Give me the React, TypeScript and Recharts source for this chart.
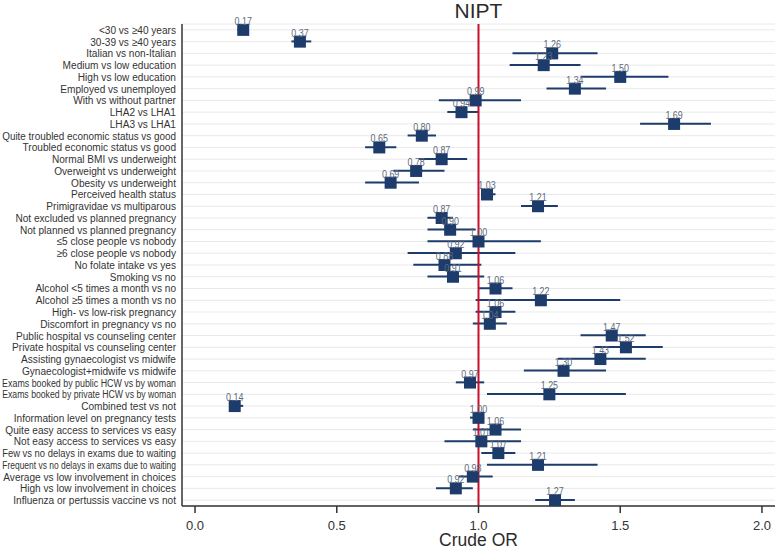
import React from "react";
import {
  ComposedChart,
  Bar,
  Line,
  XAxis,
  YAxis,
  CartesianGrid,
  ReferenceLine,
  Label,
} from "recharts";

const categories = [
  "<30 vs ≥40 years",
  "30-39 vs ≥40 years",
  "Italian vs non-Italian",
  "Medium vs low education",
  "High vs low education",
  "Employed vs unemployed",
  "With vs without partner",
  "LHA2 vs LHA1",
  "LHA3 vs LHA1",
  "Quite troubled economic status vs good",
  "Troubled economic status vs good",
  "Normal BMI vs underweight",
  "Overweight vs underweight",
  "Obesity vs underweight",
  "Perceived health status",
  "Primigravidae vs multiparous",
  "Not excluded vs planned pregnancy",
  "Not planned vs planned pregnancy",
  "≤5 close people vs nobody",
  "≥6 close people vs nobody",
  "No folate intake vs yes",
  "Smoking vs no",
  "Alcohol <5 times a month vs no",
  "Alcohol ≥5 times a month vs no",
  "High- vs low-risk pregnancy",
  "Discomfort in pregnancy vs no",
  "Public hospital vs counseling center",
  "Private hospital vs counseling center",
  "Assisting gynaecologist vs midwife",
  "Gynaecologist+midwife vs midwife",
  "Exams booked by public HCW vs by woman",
  "Exams booked by private HCW vs by woman",
  "Combined test vs not",
  "Information level on pregnancy tests",
  "Quite easy access to services vs easy",
  "Not easy access to services vs easy",
  "Few vs no delays in exams due to waiting",
  "Frequent vs no delays in exams due to waiting",
  "Average vs low involvement in choices",
  "High vs low involvement in choices",
  "Influenza or pertussis vaccine vs not",
];

const oddsRatios = [
  0.17, 0.37, 1.26, 1.23, 1.5, 1.34, 0.99, 0.94, 1.69, 0.8, 0.65, 0.87, 0.78,
  0.69, 1.03, 1.21, 0.87, 0.9, 1.0, 0.92, 0.88, 0.91, 1.06, 1.22, 1.06, 1.04,
  1.47, 1.52, 1.43, 1.3, 0.97, 1.25, 0.14, 1.0, 1.06, 1.01, 1.07, 1.21, 0.98,
  0.92, 1.27,
];

const lowerCI = [
  0.15, 0.34, 1.12, 1.11, 1.36, 1.24, 0.86, 0.89, 1.57, 0.75, 0.6, 0.79, 0.7,
  0.6, 1.01, 1.15, 0.82, 0.82, 0.82, 0.75, 0.77, 0.82, 1.0, 0.99, 0.99, 0.98,
  1.36, 1.41, 1.28, 1.16, 0.92, 1.03, 0.12, 0.97, 0.98, 0.88, 1.01, 1.03, 0.93,
  0.85, 1.2,
];

const upperCI = [
  0.19, 0.41, 1.42, 1.36, 1.67, 1.45, 1.15, 1.0, 1.82, 0.85, 0.71, 0.96, 0.88,
  0.79, 1.06, 1.28, 0.91, 0.99, 1.22, 1.13, 1.01, 1.02, 1.12, 1.5, 1.13, 1.1,
  1.59, 1.65, 1.59, 1.45, 1.02, 1.52, 0.17, 1.02, 1.15, 1.15, 1.13, 1.42, 1.05,
  0.98, 1.34,
];

const xTicks = [0, 0.5, 1, 1.5, 2];

const data = categories.map((label, i) => ({
  label,
  or: oddsRatios[i],
  ci: [lowerCI[i], upperCI[i]],
}));

const NAVY = "#1d3c6b";
const FONT = "Liberation Sans, Arial, sans-serif";
const Y_FONT_SIZE = 11;
const Y_MAX_WIDTH = 174;

let measureCtx: CanvasRenderingContext2D | null = null;
const measure = (s: string): number => {
  if (!measureCtx && typeof document !== "undefined") {
    measureCtx = document.createElement("canvas").getContext("2d");
  }
  if (!measureCtx) return s.length * Y_FONT_SIZE * 0.5;
  measureCtx.font = `${Y_FONT_SIZE}px "Liberation Sans", Arial, sans-serif`;
  return measureCtx.measureText(s).width;
};

const Whisker = (props: any) => {
  const { x, y, width, height } = props;
  if (x == null || width == null) return null;
  const cy = y + height / 2;
  return (
    <line
      x1={x}
      x2={x + width}
      y1={cy}
      y2={cy}
      stroke={NAVY}
      strokeWidth={2}
    />
  );
};

const SquareDot = (props: any) => {
  const { cx, cy, payload, index } = props;
  if (cx == null || cy == null) return null;
  const s = 12;
  return (
    <g key={`dot-${index}`}>
      <rect x={cx - s / 2} y={cy - s / 2} width={s} height={s} fill={NAVY} />
      <text
        x={0}
        y={0}
        transform={`translate(${cx},${cy - 5}) scale(0.85,1)`}
        textAnchor="middle"
        fontSize={10.5}
        fill="#5d6b7e"
        fontFamily={FONT}
      >
        {payload.or.toFixed(2)}
      </text>
    </g>
  );
};

const YTick = (props: any) => {
  const { x, y, payload } = props;
  const w = measure(String(payload.value));
  const sx = Math.min(0.92, Y_MAX_WIDTH / w);
  return (
    <text
      x={0}
      y={0}
      dy="0.36em"
      transform={`translate(${x},${y}) scale(${sx},1)`}
      textAnchor="end"
      fontSize={Y_FONT_SIZE}
      fill="#333"
      fontFamily={FONT}
    >
      {payload.value}
    </text>
  );
};

export default function App() {
  return (
    <div
      style={{
        position: "absolute",
        left: 0,
        top: 0,
        width: 776,
        height: 549,
        background: "#fff",
        fontFamily: FONT,
      }}
    >
      <div
        style={{
          position: "absolute",
          left: 182,
          width: 593,
          top: 0,
          textAlign: "center",
          fontSize: 21,
          lineHeight: "21px",
          color: "#2b2b2b",
        }}
      >
        NIPT
      </div>
      <ComposedChart
        width={776}
        height={549}
        data={data}
        layout="vertical"
        margin={{ top: 24, right: 1, bottom: 0, left: 0 }}
        barCategoryGap="10%"
      >
        <CartesianGrid
          horizontal={true}
          vertical={false}
          stroke="#e9e9e9"
          strokeWidth={1}
        />
        <XAxis
          type="number"
          domain={[-0.046, 2.046]}
          ticks={xTicks}
          tickFormatter={(v: number) => v.toFixed(1)}
          allowDataOverflow
          height={43}
          tickSize={7}
          tickMargin={8}
          tick={{ fontSize: 13, fill: "#333", fontFamily: FONT }}
          axisLine={{ stroke: "#333", strokeWidth: 1.5 }}
          tickLine={{ stroke: "#333", strokeWidth: 1.5 }}
        >
          <Label
            value="Crude OR"
            position="insideBottom"
            offset={3}
            style={{ fontSize: 17.5, fill: "#2b2b2b", fontFamily: FONT }}
          />
        </XAxis>
        <YAxis
          type="category"
          dataKey="label"
          width={182}
          interval={0}
          tickSize={0}
          tickMargin={6}
          tickLine={false}
          tick={<YTick />}
          axisLine={{ stroke: "#333", strokeWidth: 1.5 }}
        />
        <ReferenceLine x={1} stroke="#c8102e" strokeWidth={2} />
        <Bar dataKey="ci" shape={<Whisker />} isAnimationActive={false} />
        <Line
          dataKey="or"
          stroke="none"
          strokeWidth={0}
          dot={<SquareDot />}
          activeDot={false}
          isAnimationActive={false}
        />
      </ComposedChart>
    </div>
  );
}
